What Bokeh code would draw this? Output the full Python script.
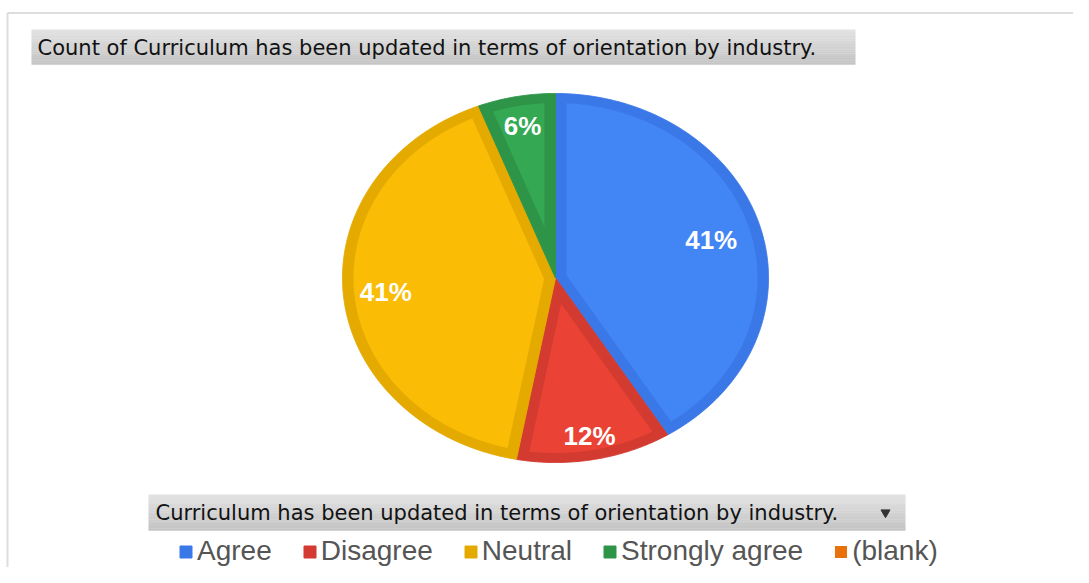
import numpy as np
from bokeh.plotting import figure
from bokeh.models import Range1d, Legend, LegendItem
from bokeh.core.properties import value
from bokeh.embed import file_html
from bokeh.resources import INLINE

# ---- data ----
categories = ["Agree", "Disagree", "Neutral", "Strongly agree", "(blank)"]
counts = [7, 2, 7, 1, 0]
title_text = "Count of Curriculum has been updated in terms of orientation by industry."
legend_title = "Curriculum has been updated in terms of orientation by industry."

# ---- styles ----
fill_colors = ["#4285F4", "#EA4335", "#FABC05", "#34A853", "#FF6D01"]
edge_colors = ["#3B78E7", "#D33B30", "#E4AA00", "#2E9548", "#E8710A"]
label_radius = [0.76, 0.87, 0.80, 0.84, 0.80]

W, H = 1073, 567
p = figure(width=W, height=H, x_range=Range1d(0, W), y_range=Range1d(H, 0),
           output_backend="svg", toolbar_location=None, min_border=0,
           x_axis_type=None, y_axis_type=None)
p.outline_line_color = None
p.background_fill_color = "white"

# outer frame lines
p.line(x=[7, W], y=[12.5, 12.5], line_color="#DDDDDD", line_width=2)
p.line(x=[7, 7], y=[12.5, H], line_color="#DDDDDD", line_width=2)


def grad_box(x0, x1, y0, y1, c_top, c_bot, n=16):
    h = (y1 - y0) / n
    a = np.array([int(c_top[i:i + 2], 16) for i in (1, 3, 5)])
    b = np.array([int(c_bot[i:i + 2], 16) for i in (1, 3, 5)])
    for k in range(n):
        t = k / (n - 1)
        c = a + (b - a) * t
        col = "#%02x%02x%02x" % tuple(int(round(v)) for v in c)
        p.quad(left=x0, right=x1, top=y0 + k * h, bottom=y0 + (k + 1) * h + 0.3,
               fill_color=col, line_color=None)


# title box
grad_box(31, 855, 29, 64, "#E2E2E2", "#C4C4C4")
p.text(x=[37], y=[47], text=[title_text], text_font=value("DejaVu Sans"),
       text_font_size="21px", text_color="#121212", text_baseline="middle")

# legend header box
grad_box(148, 905, 494, 530, "#E2E2E2", "#C4C4C4")
p.text(x=[155], y=[512], text=[legend_title], text_font=value("DejaVu Sans"),
       text_font_size="21px", text_color="#121212", text_baseline="middle")
p.scatter(x=[885], y=[512], marker="inverted_triangle", size=9,
          fill_color="#333333", line_color="#333333")

# ---- pie (elliptical, drawn in a circle space then stretched) ----
cx, cy = 555.0, 277.5
R = 184.5
sx = 213.0 / 184.5
d = 9.5


def to_screen(x, y):
    return cx + sx * np.asarray(x), cy - np.asarray(y)


total = float(sum(counts))
start = 0.0
legend_items = []
lab_x, lab_y, lab_t = [], [], []
for i, cat in enumerate(categories):
    frac = counts[i] / total
    t1 = 2 * np.pi * start
    t2 = 2 * np.pi * (start + frac)
    if frac > 0:
        n = max(3, int(np.degrees(t2 - t1) * 4))
        th = np.linspace(t1, t2, n)
        ox = np.concatenate([[0.0], R * np.sin(th)])
        oy = np.concatenate([[0.0], R * np.cos(th)])
        X, Y = to_screen(ox, oy)
        r = p.patch(x=list(X), y=list(Y), fill_color=edge_colors[i],
                    line_color=edge_colors[i], line_width=1)
        # inset polygon
        n1 = np.array([np.cos(t1), -np.sin(t1)])
        n2 = np.array([-np.cos(t2), np.sin(t2)])
        apex = np.linalg.solve(np.array([n1, n2]), np.array([d, d]))
        th2 = np.linspace(t1, t2, n * 4)
        ix = (R - d) * np.sin(th2)
        iy = (R - d) * np.cos(th2)
        keep = (ix * n1[0] + iy * n1[1] >= d) & (ix * n2[0] + iy * n2[1] >= d)
        px = np.concatenate([[apex[0]], ix[keep]])
        py = np.concatenate([[apex[1]], iy[keep]])
        X2, Y2 = to_screen(px, py)
        p.patch(x=list(X2), y=list(Y2), fill_color=fill_colors[i], line_color=None)
        mid = (t1 + t2) / 2
        lx, ly = to_screen(label_radius[i] * R * np.sin(mid),
                           label_radius[i] * R * np.cos(mid))
        lab_x.append(float(lx))
        lab_y.append(float(ly))
        lab_t.append(f"{round(100 * counts[i] / total)}%")
    else:
        # zero-size slice: degenerate patch at the centre (legend only)
        X, Y = to_screen([0.0, 0.0, 0.0], [0.0, 0.0, 0.0])
        r = p.patch(x=list(X), y=list(Y), fill_color=edge_colors[i],
                    line_color=None)
    legend_items.append(LegendItem(label=cat, renderers=[r]))
    start += frac

p.text(x=lab_x, y=lab_y, text=lab_t, text_color="white",
       text_font=value("Liberation Sans"), text_font_style="bold",
       text_font_size="26px", text_align="center", text_baseline="middle")

legend = Legend(items=legend_items, orientation="horizontal", location=(178, 0),
                glyph_width=15, glyph_height=15, label_standoff=4, spacing=30,
                padding=0, margin=0, border_line_color=None,
                background_fill_alpha=0,
                label_text_font="Liberation Sans", label_text_font_size="28px",
                label_text_color="#555555")
p.add_layout(legend)

open("out.html", "w").write(file_html(p, INLINE))
